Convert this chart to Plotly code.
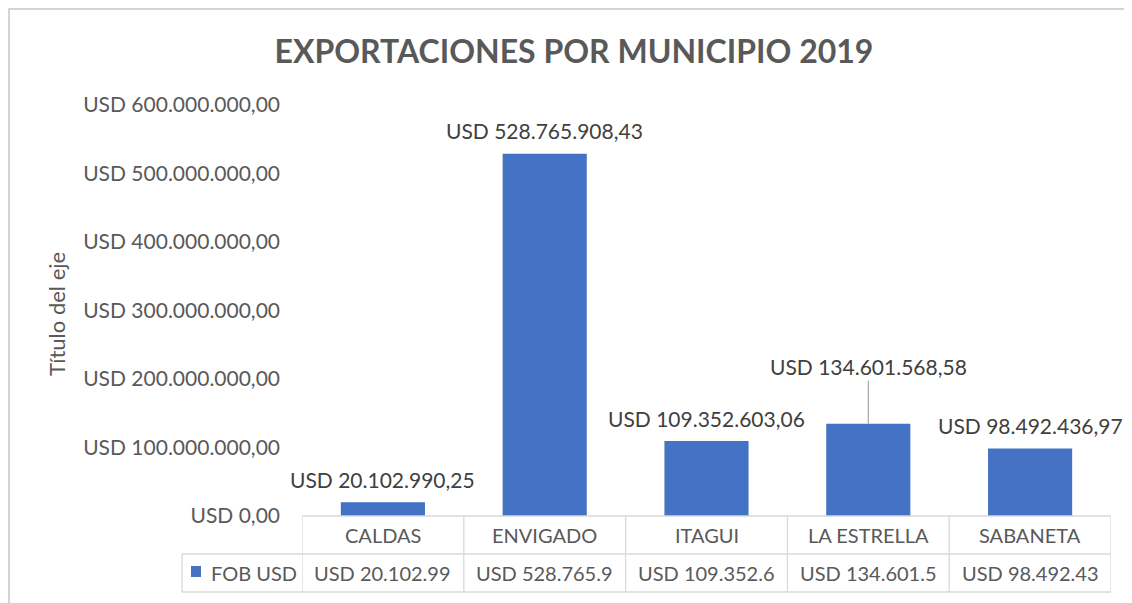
import plotly.graph_objects as go

# ---- data ----
municipios = ["CALDAS", "ENVIGADO", "ITAGUI", "LA ESTRELLA", "SABANETA"]
fob_usd = [20102990.25, 528765908.43, 109352603.06, 134601568.58, 98492436.97]
tabla_valores = ["USD 20.102.99", "USD 528.765.9", "USD 109.352.6", "USD 134.601.5", "USD 98.492.43"]
tick_vals = [0, 100e6, 200e6, 300e6, 400e6, 500e6, 600e6]
tick_text = ["USD 0,00", "USD 100.000.000,00", "USD 200.000.000,00", "USD 300.000.000,00",
             "USD 400.000.000,00", "USD 500.000.000,00", "USD 600.000.000,00"]
serie = "FOB USD"
titulo = "EXPORTACIONES POR MUNICIPIO 2019"
titulo_eje = "Título del eje"


def fmt_usd(v):
    s = f"{v:,.2f}"
    s = s.replace(",", "X").replace(".", ",").replace("X", ".")
    return "USD " + s


OFF = 8                      # page body margin
W, H = 1132 - OFF, 603 - OFF  # figure size
L, R, T, B = 302, 1111, 105, 516   # plot area in page pixels
FONT = "Lato"
GRAY = "#595959"
DARK = "#404040"
LINE = "#d9d9d9"
BLUE = "#4472C4"
FS = 21      # tick / data label font
FT = 20      # table font


def px(x):
    return (x - L) / (R - L)


def py(y):
    return (B - y) / (B - T)


fig = go.Figure()
fig.add_trace(go.Bar(x=list(range(len(municipios))), y=fob_usd, marker_color=BLUE,
                     marker_line_width=0, name=serie, hoverinfo="y"))

ml, mt = L - OFF, T - OFF
fig.update_layout(
    width=W, height=H,
    margin=dict(l=ml, r=W - ml - (R - L), t=mt, b=H - mt - (B - T), pad=0),
    paper_bgcolor="white", plot_bgcolor="white",
    showlegend=False, bargap=0.48,
    font=dict(family=FONT, color=GRAY, size=FT),
    title=dict(text="<b>" + titulo + "</b>", x=(574 - OFF) / W, xanchor="center",
               y=1 - (52 - OFF) / H, yanchor="middle",
               font=dict(family=FONT, size=32, color=GRAY)),
    xaxis=dict(range=[-0.5, len(municipios) - 0.5], showticklabels=False, showgrid=False,
               zeroline=False, showline=False, fixedrange=True),
    yaxis=dict(range=[0, 600e6], tickvals=tick_vals, ticktext=tick_text, showgrid=False,
               zeroline=False, showline=False, ticks="", ticklabelstandoff=21,
               tickfont=dict(family=FONT, size=FS, color=GRAY)),
)

annotations = []
# y axis title
annotations.append(dict(text=titulo_eje, xref="paper", yref="paper", x=px(56), y=py(314),
                        textangle=-90, showarrow=False, xanchor="center", yanchor="middle",
                        font=dict(family=FONT, size=22, color=GRAY)))
# data labels
for i, v in enumerate(fob_usd):
    if municipios[i] == "LA ESTRELLA":
        annotations.append(dict(text=fmt_usd(v), x=i, y=v, xref="x", yref="y",
                                showarrow=True, arrowhead=0, arrowwidth=1.2, arrowcolor="#a6a6a6",
                                ax=0, ay=-57, standoff=0,
                                font=dict(family=FONT, size=FS, color=DARK)))
    else:
        annotations.append(dict(text=fmt_usd(v), x=i, y=v, xref="x", yref="y", showarrow=False,
                                yanchor="middle", yshift=23,
                                font=dict(family=FONT, size=FS, color=DARK)))
# data table texts
for i, (m, t) in enumerate(zip(municipios, tabla_valores)):
    annotations.append(dict(text=m, x=i, xref="x", yref="paper", y=py(535), showarrow=False,
                            yanchor="middle", font=dict(family=FONT, size=FT, color=GRAY)))
    annotations.append(dict(text=t, x=i, xref="x", yref="paper", y=py(573), showarrow=False,
                            yanchor="middle", font=dict(family=FONT, size=FT, color=GRAY)))
annotations.append(dict(text=serie, xref="paper", yref="paper", x=px(209), y=py(573),
                        xanchor="left", yanchor="middle", showarrow=False,
                        font=dict(family=FONT, size=FT, color=GRAY)))
fig.update_layout(annotations=annotations)

shapes = []
lw = 1.3
# horizontal table lines
shapes.append(dict(type="line", xref="paper", yref="paper", x0=0, x1=1, y0=py(516), y1=py(516),
                   line=dict(color=LINE, width=lw)))
for yy in (554, 592):
    shapes.append(dict(type="line", xref="paper", yref="paper", x0=px(182), x1=1, y0=py(yy), y1=py(yy),
                       line=dict(color=LINE, width=lw)))
# vertical table lines
for k in range(len(municipios) + 1):
    shapes.append(dict(type="line", xref="x", yref="paper", x0=k - 0.5, x1=k - 0.5,
                       y0=py(516), y1=py(592), line=dict(color=LINE, width=lw)))
shapes.append(dict(type="line", xref="paper", yref="paper", x0=px(182), x1=px(182),
                   y0=py(554), y1=py(592), line=dict(color=LINE, width=lw)))
# legend key
shapes.append(dict(type="rect", xref="paper", yref="paper", x0=px(191), x1=px(201),
                   y0=py(577), y1=py(566), fillcolor=BLUE, line=dict(width=0)))
# outer chart frame (top and left)
shapes.append(dict(type="line", xref="paper", yref="paper", x0=px(8), x1=px(1132), y0=py(9), y1=py(9),
                   line=dict(color="#d4d4d4", width=2)))
shapes.append(dict(type="line", xref="paper", yref="paper", x0=px(9), x1=px(9), y0=py(8), y1=py(603),
                   line=dict(color="#d4d4d4", width=2)))
fig.update_layout(shapes=shapes)

fig.write_html("out.html")
